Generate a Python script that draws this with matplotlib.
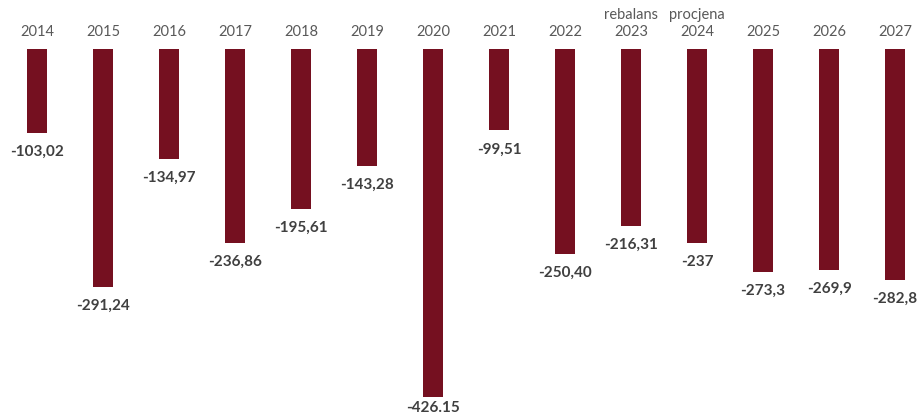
import matplotlib.pyplot as plt

years = ['2014', '2015', '2016', '2017', '2018', '2019', '2020',
         '2021', '2022', '2023', '2024', '2025', '2026', '2027']
notes = ['', '', '', '', '', '', '', '', '', 'rebalans', 'procjena', '', '', '']
values = [-103.02, -291.24, -134.97, -236.86, -195.61, -143.28, -426.15,
          -99.51, -250.40, -216.31, -237, -273.3, -269.9, -282.8]
value_labels = ['-103,02', '-291,24', '-134,97', '-236,86', '-195,61', '-143,28', '-426.15',
                '-99,51', '-250,40', '-216,31', '-237', '-273,3', '-269,9', '-282,8']

plt.rcParams['font.family'] = ['Lato', 'DejaVu Sans']

fig = plt.figure(figsize=(9.2, 4.14), dpi=100)
ax = fig.add_axes([0, 0, 1, 1])

x = list(range(len(years)))
ax.bar(x, values, width=0.3, color='#751020')

px = 0.817  # pixels per unit
ax.set_xlim(-37 / 66, (920 - 37) / 66)
ax.set_ylim(-364 / px, 50 / px)
ax.axis('off')

bottom = -364 / px
for i in x:
    ax.annotate(years[i], (i, 0), xytext=(0, 13), textcoords='offset points',
                ha='center', va='center', fontsize=10.5, color='#595959')
    if notes[i]:
        ax.annotate(notes[i], (i, 0), xytext=(0, 25), textcoords='offset points',
                    ha='center', va='center', fontsize=10.5, color='#595959')
    ly = max(values[i] - 18 / px, bottom + 6 / px)
    ax.text(i, ly, value_labels[i], ha='center', va='center', fontsize=11,
            fontweight='bold', color='#404040')

fig.savefig('out.png', dpi=100)
